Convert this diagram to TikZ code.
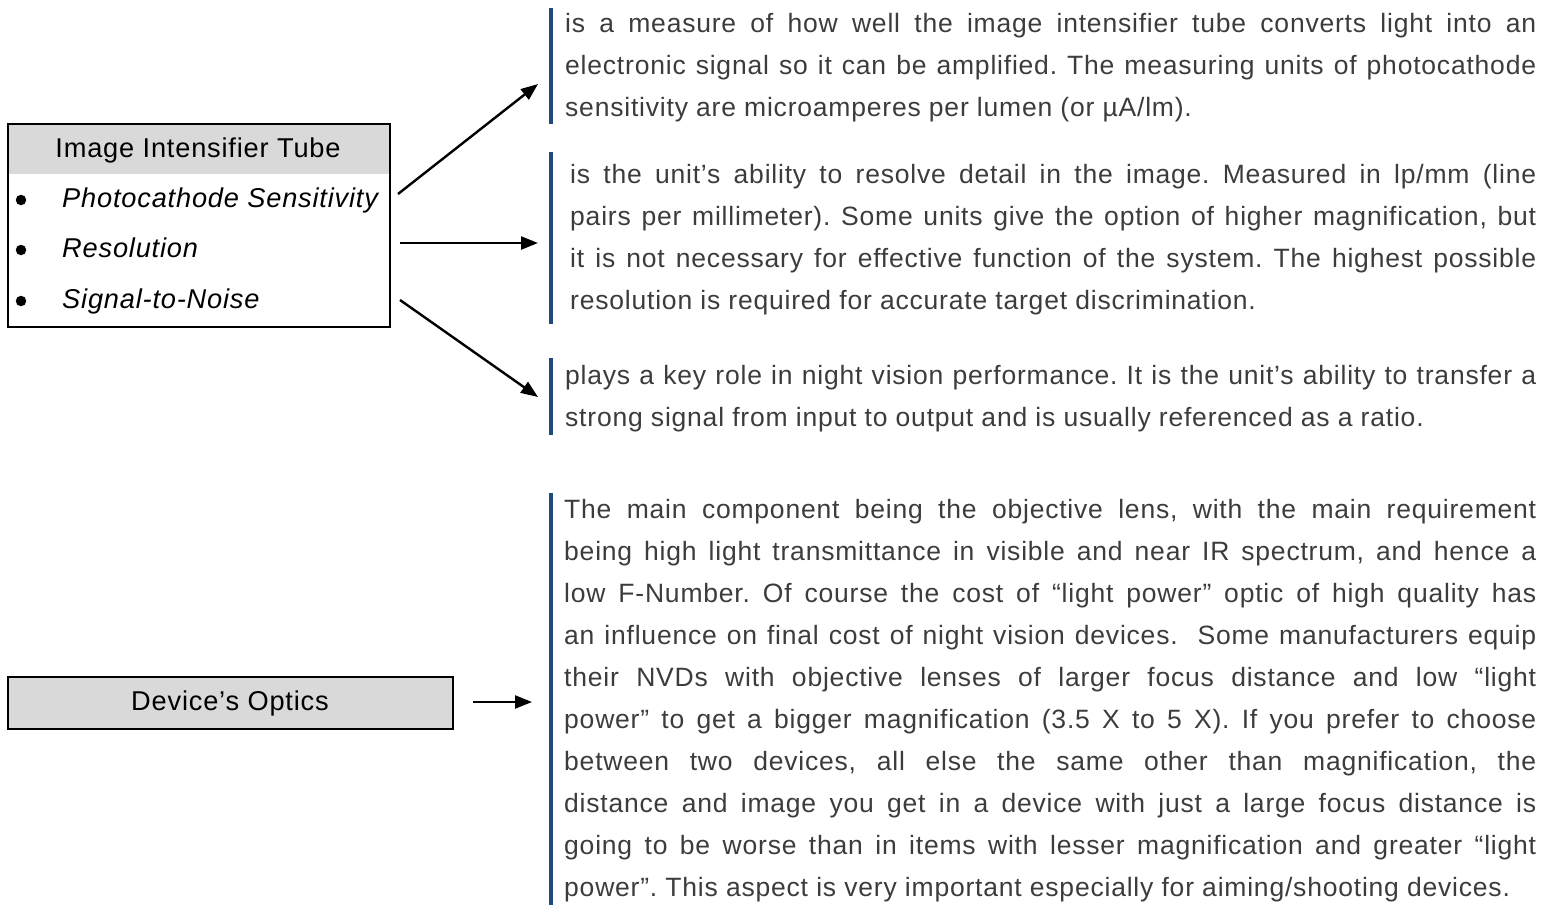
\documentclass[tikz,border=0pt]{standalone}
\usepackage{fontspec}
\setmainfont{Liberation Sans}
\newfontfamily\lsff[LetterSpace=3]{Liberation Sans}
\usepackage{graphicx}
\usetikzlibrary{arrows.meta}
\definecolor{barblue}{RGB}{31,73,125}
\definecolor{boxgray}{RGB}{217,217,217}
\definecolor{txtgray}{RGB}{60,60,60}
\newcommand\bodyfont{\lsff\fontsize{26.5}{42}\selectfont\frenchspacing}
\newcommand\boxfont{\lsff\fontsize{27.2}{42}\selectfont\frenchspacing}
\newlength\jlen
\newcommand\jl[2]{\settowidth\jlen{#2}\ifdim\jlen>#1\relax\resizebox{#1}{\height}{#2}\else\makebox[#1][s]{#2}\fi}
\begin{document}
\begin{tikzpicture}[x=1pt,y=-1pt,
  bodyline/.style={anchor=base west, inner sep=0pt, text=txtgray, font=\bodyfont},
  boxtext/.style={anchor=base, inner sep=0pt, font=\boxfont},
  itemtext/.style={anchor=base west, inner sep=0pt, font=\boxfont\itshape},
  bulletmark/.style={circle, fill, inner sep=0pt, minimum size=10.5pt},
  bar/.style={draw=barblue, line width=3.5pt},
  conn/.style={line width=2.4pt, -{Triangle[length=17pt,width=13pt]}},
  frame/.style={draw, line width=2.4pt, inner sep=0pt, anchor=north west}]
\useasboundingbox (0,0) rectangle (1551,905);
% left box
\fill[boxgray] (7,123) rectangle (389,174);
\node[frame, minimum width=382pt, minimum height=203pt] (itt) at (7,123) {};
\node[boxtext] (ithead) at (198,157) {Image Intensifier Tube};
\node[bulletmark] (b1) at (21,200) {};
\node[bulletmark] (b2) at (21,250) {};
\node[bulletmark] (b3) at (21,301) {};
\node[itemtext] (it1) at (62,207) {Photocathode Sensitivity};
\node[itemtext] (it2) at (62,257) {Resolution};
\node[itemtext] (it3) at (62,308) {Signal-to-Noise};
% optics box
\node[frame, fill=boxgray, minimum width=445pt, minimum height=52pt] (optics) at (7,676) {};
\node[boxtext] (optext) at (230,710) {Device’s Optics};
% bars
\draw[bar] (551,8) -- (551,124);
\draw[bar] (551,152) -- (551,324);
\draw[bar] (551,358) -- (551,435);
\draw[bar] (551,493) -- (551,905);
% paragraph 1
\node[bodyline] (p1a) at (565,32) {\jl{971pt}{is a measure of how well the image intensifier tube converts light into an}};
\node[bodyline] (p1b) at (565,74) {\jl{971pt}{electronic signal so it can be amplified. The measuring units of photocathode}};
\node[bodyline] (p1c) at (565,116) {sensitivity are microamperes per lumen (or µA/lm).};
% paragraph 2
\node[bodyline] (p2a) at (570,183) {\jl{966pt}{is the unit’s ability to resolve detail in the image. Measured in lp/mm (line}};
\node[bodyline] (p2b) at (570,225) {\jl{966pt}{pairs per millimeter). Some units give the option of higher magnification, but}};
\node[bodyline] (p2c) at (570,267) {\jl{966pt}{it is not necessary for effective function of the system. The highest possible}};
\node[bodyline] (p2d) at (570,309) {resolution is required for accurate target discrimination.};
% paragraph 3
\node[bodyline] (p3a) at (565,384) {\jl{971pt}{plays a key role in night vision performance. It is the unit’s ability to transfer a}};
\node[bodyline] (p3b) at (565,426) {strong signal from input to output and is usually referenced as a ratio.};
% paragraph 4
\node[bodyline] (p4a) at (564,518) {\jl{972pt}{The main component being the objective lens, with the main requirement}};
\node[bodyline] (p4b) at (564,560) {\jl{972pt}{being high light transmittance in visible and near IR spectrum, and hence a}};
\node[bodyline] (p4c) at (564,602) {\jl{972pt}{low F-Number. Of course the cost of “light power” optic of high quality has}};
\node[bodyline] (p4d) at (564,644) {\jl{972pt}{an influence on final cost of night vision devices.\ \ Some manufacturers equip}};
\node[bodyline] (p4e) at (564,686) {\jl{972pt}{their NVDs with objective lenses of larger focus distance and low “light}};
\node[bodyline] (p4f) at (564,728) {\jl{972pt}{power” to get a bigger magnification (3.5 X to 5 X). If you prefer to choose}};
\node[bodyline] (p4g) at (564,770) {\jl{972pt}{between two devices, all else the same other than magnification, the}};
\node[bodyline] (p4h) at (564,812) {\jl{972pt}{distance and image you get in a device with just a large focus distance is}};
\node[bodyline] (p4i) at (564,854) {\jl{972pt}{going to be worse than in items with lesser magnification and greater “light}};
\node[bodyline] (p4j) at (564,896) {power”. This aspect is very important especially for aiming/shooting devices.};
% connectors
\coordinate (a1s) at (398,194); \coordinate (a1e) at (538,84);
\coordinate (a2s) at (400,243); \coordinate (a2e) at (538,243);
\coordinate (a3s) at (400,300); \coordinate (a3e) at (538,397);
\coordinate (a4s) at (473,702); \coordinate (a4e) at (532,702);
\draw[conn] (a1s) -- (a1e);
\draw[conn] (a2s) -- (a2e);
\draw[conn] (a3s) -- (a3e);
\draw[conn] (a4s) -- (a4e);
\end{tikzpicture}
\end{document}
